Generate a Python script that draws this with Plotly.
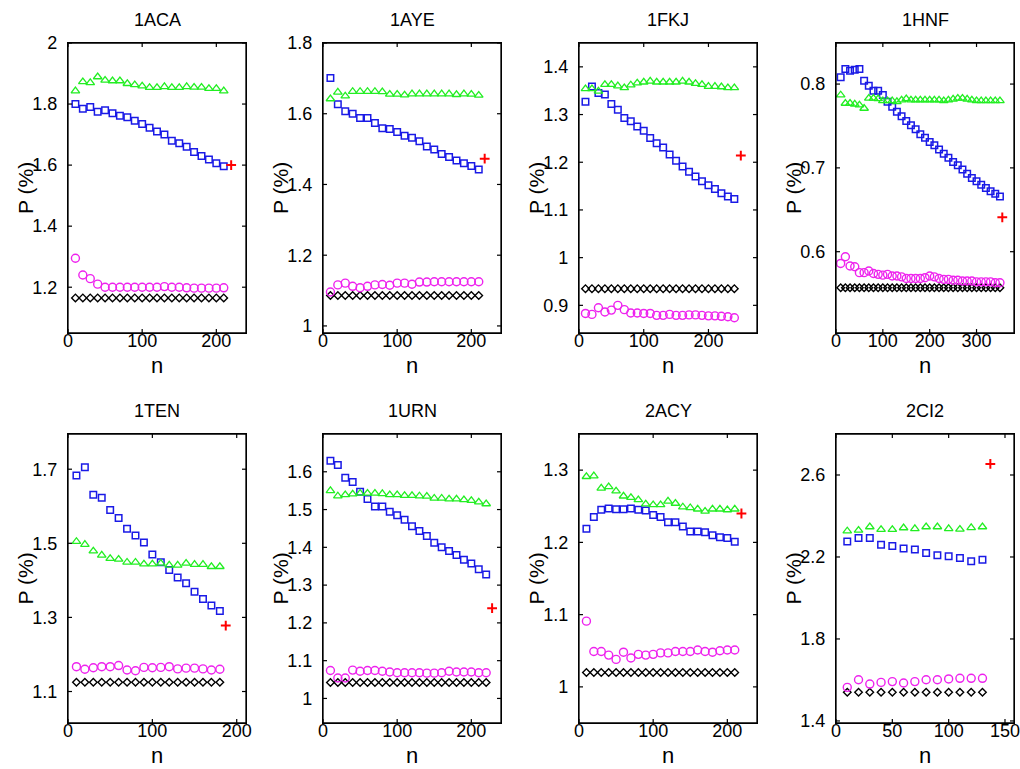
import plotly.graph_objects as go

# ---------------- data ----------------
titles = ["1ACA", "1AYE", "1FKJ", "1HNF", "1TEN", "1URN", "2ACY", "2CI2"]

n_1ACA = [10, 20, 30, 40, 50, 60, 70, 80, 90, 100, 110, 120, 130, 140, 150, 160, 170, 180, 190, 200, 210]
g_1ACA = [1.843, 1.873, 1.87, 1.889, 1.878, 1.876, 1.876, 1.867, 1.863, 1.859, 1.854, 1.854, 1.857, 1.854, 1.854, 1.857, 1.855, 1.855, 1.851, 1.851, 1.843]
b_1ACA = [1.80, 1.785, 1.79, 1.775, 1.78, 1.77, 1.762, 1.757, 1.745, 1.735, 1.722, 1.71, 1.70, 1.68, 1.672, 1.66, 1.643, 1.63, 1.618, 1.606, 1.596]
m_1ACA = [1.295, 1.24, 1.228, 1.21, 1.20, 1.2, 1.2, 1.2, 1.2, 1.2, 1.2, 1.2, 1.202, 1.2, 1.2, 1.198, 1.197, 1.197, 1.197, 1.197, 1.198]
k_1ACA = [1.165] * 21
r_1ACA = (220, 1.6)

n_1AYE = [10, 20, 30, 40, 50, 60, 70, 80, 90, 100, 110, 120, 130, 140, 150, 160, 170, 180, 190, 200, 210]
g_1AYE = [1.642, 1.661, 1.65, 1.663, 1.663, 1.663, 1.663, 1.662, 1.655, 1.655, 1.653, 1.656, 1.656, 1.656, 1.656, 1.656, 1.656, 1.654, 1.656, 1.655, 1.652]
b_1AYE = [1.701, 1.627, 1.607, 1.60, 1.588, 1.588, 1.574, 1.559, 1.557, 1.548, 1.538, 1.532, 1.522, 1.507, 1.499, 1.486, 1.478, 1.468, 1.46, 1.452, 1.442]
m_1AYE = [1.096, 1.116, 1.121, 1.112, 1.108, 1.112, 1.116, 1.117, 1.115, 1.121, 1.121, 1.118, 1.124, 1.124, 1.125, 1.125, 1.125, 1.125, 1.125, 1.125, 1.125]
k_1AYE = [1.086] * 21
r_1AYE = (218, 1.473)

n_1FKJ = [10, 20, 30, 40, 50, 60, 70, 80, 90, 100, 110, 120, 130, 140, 150, 160, 170, 180, 190, 200, 210, 220, 230, 240]
g_1FKJ = [1.354, 1.354, 1.349, 1.363, 1.363, 1.36, 1.356, 1.362, 1.366, 1.368, 1.37, 1.368, 1.368, 1.368, 1.368, 1.37, 1.368, 1.365, 1.363, 1.359, 1.359, 1.358, 1.356, 1.356]
b_1FKJ = [1.327, 1.359, 1.345, 1.342, 1.322, 1.31, 1.293, 1.286, 1.275, 1.266, 1.251, 1.24, 1.231, 1.216, 1.203, 1.191, 1.18, 1.17, 1.16, 1.152, 1.144, 1.135, 1.128, 1.123]
m_1FKJ = [0.883, 0.881, 0.895, 0.886, 0.89, 0.9, 0.891, 0.884, 0.884, 0.883, 0.883, 0.879, 0.879, 0.881, 0.879, 0.879, 0.88, 0.88, 0.879, 0.878, 0.878, 0.877, 0.876, 0.874]
k_1FKJ = [0.935] * 24
r_1FKJ = (250, 1.214)

n_1HNF = [10, 20, 30, 40, 50, 60, 70, 80, 90, 100, 110, 120, 130, 140, 150, 160, 170, 180, 190, 200,
          210, 220, 230, 240, 250, 260, 270, 280, 290, 300, 310, 320, 330, 340, 350]
g_1HNF = [0.787, 0.777, 0.777, 0.776, 0.775, 0.771, 0.783, 0.783, 0.7825, 0.78, 0.78, 0.78, 0.779, 0.781, 0.7825, 0.781, 0.781, 0.781,
          0.781, 0.781, 0.781, 0.781, 0.78, 0.781, 0.782, 0.783, 0.783, 0.782, 0.781, 0.78, 0.78, 0.78, 0.78, 0.78, 0.78]
b_1HNF = [0.808, 0.818, 0.816, 0.817, 0.818, 0.804, 0.798, 0.792, 0.792, 0.787, 0.779, 0.773, 0.767, 0.7615, 0.756, 0.751, 0.746, 0.74,
          0.736, 0.731, 0.727, 0.722, 0.717, 0.712, 0.707, 0.703, 0.698, 0.693, 0.688, 0.684, 0.68, 0.676, 0.672, 0.669, 0.666]
m_1HNF = [0.586, 0.594, 0.583, 0.582, 0.575, 0.575, 0.577, 0.574, 0.573, 0.572, 0.573, 0.571, 0.571, 0.57, 0.568, 0.568, 0.568, 0.568,
          0.569, 0.571, 0.57, 0.568, 0.567, 0.567, 0.566, 0.566, 0.565, 0.565, 0.565, 0.564, 0.564, 0.564, 0.564, 0.563, 0.563]
k_1HNF = [0.557] * 35
r_1HNF = (355, 0.641)

n_1TEN = [10, 20, 30, 40, 50, 60, 70, 80, 90, 100, 110, 120, 130, 140, 150, 160, 170, 180]
g_1TEN = [1.505, 1.497, 1.479, 1.468, 1.459, 1.457, 1.449, 1.449, 1.444, 1.444, 1.446, 1.441, 1.441, 1.446, 1.443, 1.443, 1.437, 1.437]
b_1TEN = [1.683, 1.705, 1.631, 1.623, 1.59, 1.568, 1.539, 1.521, 1.502, 1.470, 1.449, 1.428, 1.408, 1.392, 1.369, 1.35, 1.332, 1.317]
m_1TEN = [1.167, 1.160, 1.164, 1.167, 1.167, 1.17, 1.158, 1.156, 1.165, 1.164, 1.165, 1.167, 1.161, 1.163, 1.163, 1.161, 1.158, 1.16]
k_1TEN = [1.125] * 18
r_1TEN = (187, 1.278)

n_1URN = [10, 20, 30, 40, 50, 60, 70, 80, 90, 100, 110, 120, 130, 140, 150, 160, 170, 180, 190, 200, 210, 220]
g_1URN = [1.55, 1.536, 1.539, 1.541, 1.543, 1.543, 1.543, 1.542, 1.539, 1.539, 1.537, 1.537, 1.536, 1.535, 1.530, 1.530, 1.528, 1.528, 1.526, 1.524, 1.520, 1.515]
b_1URN = [1.629, 1.618, 1.584, 1.573, 1.547, 1.528, 1.508, 1.508, 1.494, 1.485, 1.473, 1.456, 1.443, 1.43, 1.412, 1.40, 1.39, 1.38, 1.367, 1.357, 1.342, 1.328]
m_1URN = [1.074, 1.054, 1.054, 1.075, 1.072, 1.074, 1.074, 1.072, 1.07, 1.068, 1.068, 1.068, 1.068, 1.067, 1.067, 1.068, 1.072, 1.07, 1.07, 1.07, 1.068, 1.068]
k_1URN = [1.042] * 22
r_1URN = (228, 1.239)

n_2ACY = [10, 20, 30, 40, 50, 60, 70, 80, 90, 100, 110, 120, 130, 140, 150, 160, 170, 180, 190, 200, 210]
g_2ACY = [1.291, 1.292, 1.275, 1.277, 1.271, 1.264, 1.262, 1.259, 1.253, 1.252, 1.252, 1.257, 1.254, 1.249, 1.248, 1.246, 1.243, 1.246, 1.246, 1.245, 1.246]
b_2ACY = [1.219, 1.235, 1.245, 1.247, 1.246, 1.246, 1.247, 1.245, 1.244, 1.238, 1.235, 1.228, 1.228, 1.222, 1.215, 1.215, 1.214, 1.21, 1.207, 1.206, 1.201]
m_2ACY = [1.091, 1.049, 1.049, 1.044, 1.038, 1.048, 1.040, 1.045, 1.044, 1.045, 1.047, 1.047, 1.049, 1.049, 1.049, 1.051, 1.049, 1.048, 1.05, 1.051, 1.051]
k_2ACY = [1.02] * 21
r_2ACY = (219, 1.24)

n_2CI2 = [10, 20, 30, 40, 50, 60, 70, 80, 90, 100, 110, 120, 130]
g_2CI2 = [2.327, 2.33, 2.347, 2.334, 2.334, 2.342, 2.338, 2.347, 2.347, 2.338, 2.335, 2.343, 2.347]
b_2CI2 = [2.276, 2.293, 2.293, 2.26, 2.254, 2.241, 2.236, 2.22, 2.208, 2.203, 2.195, 2.179, 2.187]
m_2CI2 = [1.564, 1.601, 1.58, 1.588, 1.592, 1.585, 1.592, 1.601, 1.601, 1.605, 1.608, 1.608, 1.608]
k_2CI2 = [1.54] * 13
r_2CI2 = (137, 2.654)

# axis ranges and ticks
x_ranges = [[0, 240], [0, 240], [0, 275], [0, 380], [0, 211], [0, 240], [0, 240], [0, 158]]
y_ranges = [[1.05, 2.0], [0.98, 1.8], [0.842, 1.45], [0.503, 0.849], [1.015, 1.795], [0.935, 1.7], [0.95, 1.35], [1.39, 2.8]]
x_ticks = [[0, 100, 200]] * 3 + [[0, 100, 200, 300]] + [[0, 100, 200]] * 3 + [[0, 50, 100, 150]]
y_ticks = [[1.2, 1.4, 1.6, 1.8, 2], [1, 1.2, 1.4, 1.6, 1.8], [0.9, 1, 1.1, 1.2, 1.3, 1.4], [0.6, 0.7, 0.8],
           [1.1, 1.3, 1.5, 1.7], [1, 1.1, 1.2, 1.3, 1.4, 1.5, 1.6], [1, 1.1, 1.2, 1.3], [1.4, 1.8, 2.2, 2.6]]

panels = [
    (n_1ACA, g_1ACA, b_1ACA, m_1ACA, k_1ACA, r_1ACA),
    (n_1AYE, g_1AYE, b_1AYE, m_1AYE, k_1AYE, r_1AYE),
    (n_1FKJ, g_1FKJ, b_1FKJ, m_1FKJ, k_1FKJ, r_1FKJ),
    (n_1HNF, g_1HNF, b_1HNF, m_1HNF, k_1HNF, r_1HNF),
    (n_1TEN, g_1TEN, b_1TEN, m_1TEN, k_1TEN, r_1TEN),
    (n_1URN, g_1URN, b_1URN, m_1URN, k_1URN, r_1URN),
    (n_2ACY, g_2ACY, b_2ACY, m_2ACY, k_2ACY, r_2ACY),
    (n_2CI2, g_2CI2, b_2CI2, m_2CI2, k_2CI2, r_2CI2),
]

# ---------------- layout ----------------
W, H = 1020, 769
col_left = [68, 323, 579, 836]   # page coordinates
panel_w = 178
row_top = [43, 434]
row_bot = [333, 723]
TICK_PX = 4
FONT = "Liberation Sans, Arial, Helvetica, sans-serif"


def px(xp):
    return min(1.0, max(0.0, xp / W))


def py(yp):
    return min(1.0, max(0.0, 1 - yp / H))


fig = go.Figure()
layout = dict(
    template="none",
    width=W, height=H, margin=dict(l=0, r=0, t=0, b=0, pad=0, autoexpand=False),
    paper_bgcolor="white", plot_bgcolor="white", showlegend=False,
    font=dict(family=FONT, size=18, color="black"),
)
annotations = []
shapes = []
LINE = dict(color="black", width=1.2)

for i, (n, g, b, m, k, r) in enumerate(panels):
    row, col = divmod(i, 4)
    ax = "" if i == 0 else str(i + 1)
    x0 = px(col_left[col])
    x1 = px(col_left[col] + panel_w)
    y0 = py(row_bot[row])
    y1 = py(row_top[row])
    panel_h = row_bot[row] - row_top[row]
    common = dict(showline=True, linecolor="black", linewidth=1.3, mirror=True,
                  ticks="", showgrid=False, zeroline=False, ticklabeloverflow="allow",
                  tickfont=dict(family=FONT, size=18, color="black"))
    layout["xaxis" + ax] = dict(domain=[x0, x1], anchor="y" + ax, range=x_ranges[i],
                                tickmode="array", tickvals=x_ticks[i], ticklabelstandoff=-9, **common)
    layout["yaxis" + ax] = dict(domain=[y0, y1], anchor="x" + ax, range=y_ranges[i],
                                tickmode="array", tickvals=y_ticks[i],
                                ticktext=[("%g" % v) for v in y_ticks[i]],
                                ticklabelstandoff=6, **common)
    xa, ya = "x" + ax, "y" + ax
    # frame box
    shapes.append(dict(type="rect", xref=xa + " domain", yref=ya + " domain", x0=0, x1=1, y0=0, y1=1,
                       line=dict(color="black", width=1.3), fillcolor="rgba(0,0,0,0)", layer="above"))
    # inward tick marks on all four sides, at the axis tick values
    ty = TICK_PX / panel_h
    tx = TICK_PX / panel_w
    for xv in x_ticks[i]:
        shapes.append(dict(type="line", xref=xa, yref=ya + " domain", x0=xv, x1=xv, y0=0, y1=ty,
                           line=LINE, layer="above"))
        shapes.append(dict(type="line", xref=xa, yref=ya + " domain", x0=xv, x1=xv, y0=1 - ty, y1=1,
                           line=LINE, layer="above"))
    for yv in y_ticks[i]:
        shapes.append(dict(type="line", xref=xa + " domain", yref=ya, x0=0, x1=tx, y0=yv, y1=yv,
                           line=LINE, layer="above"))
        shapes.append(dict(type="line", xref=xa + " domain", yref=ya, x0=1 - tx, x1=1, y0=yv, y1=yv,
                           line=LINE, layer="above"))

    fig.add_trace(go.Scatter(x=n, y=k, mode="markers", xaxis=xa, yaxis=ya,
                             marker=dict(symbol="diamond-open", size=5.8, color="black", line=dict(width=1.4))))
    fig.add_trace(go.Scatter(x=n, y=m, mode="markers", xaxis=xa, yaxis=ya,
                             marker=dict(symbol="circle-open", size=8, color="#ee22ee", line=dict(width=1.4))))
    fig.add_trace(go.Scatter(x=n, y=b, mode="markers", xaxis=xa, yaxis=ya,
                             marker=dict(symbol="square-open", size=6.5, color="#1a1ae6", line=dict(width=1.5))))
    fig.add_trace(go.Scatter(x=n, y=g, mode="markers", xaxis=xa, yaxis=ya,
                             marker=dict(symbol="triangle-up-open", size=7.5, color="#22ee22", line=dict(width=1.3))))
    fig.add_trace(go.Scatter(x=[r[0]], y=[r[1]], mode="markers", xaxis=xa, yaxis=ya,
                             marker=dict(symbol="cross-thin-open", size=7, color="red", line=dict(width=2, color="red"))))

    cx = (x0 + x1) / 2
    annotations.append(dict(text=titles[i], x=cx, y=py(row_top[row] - 23), xref="paper", yref="paper",
                            showarrow=False, font=dict(family=FONT, size=18), xanchor="center", yanchor="middle"))
    annotations.append(dict(text="n", x=cx, y=py(row_bot[row] + 32), xref="paper", yref="paper",
                            showarrow=False, font=dict(family=FONT, size=22), xanchor="center", yanchor="middle"))
    annotations.append(dict(text="P (%)", x=px(col_left[col] - 43), y=(y0 + y1) / 2, xref="paper", yref="paper",
                            showarrow=False, textangle=-90, font=dict(family=FONT, size=21),
                            xanchor="center", yanchor="middle"))

layout["annotations"] = annotations
layout["shapes"] = shapes
fig.update_layout(**layout)
fig.write_html("out.html", config={"displayModeBar": False},
               post_script="document.body.style.margin='0px';document.body.style.overflow='hidden';")
